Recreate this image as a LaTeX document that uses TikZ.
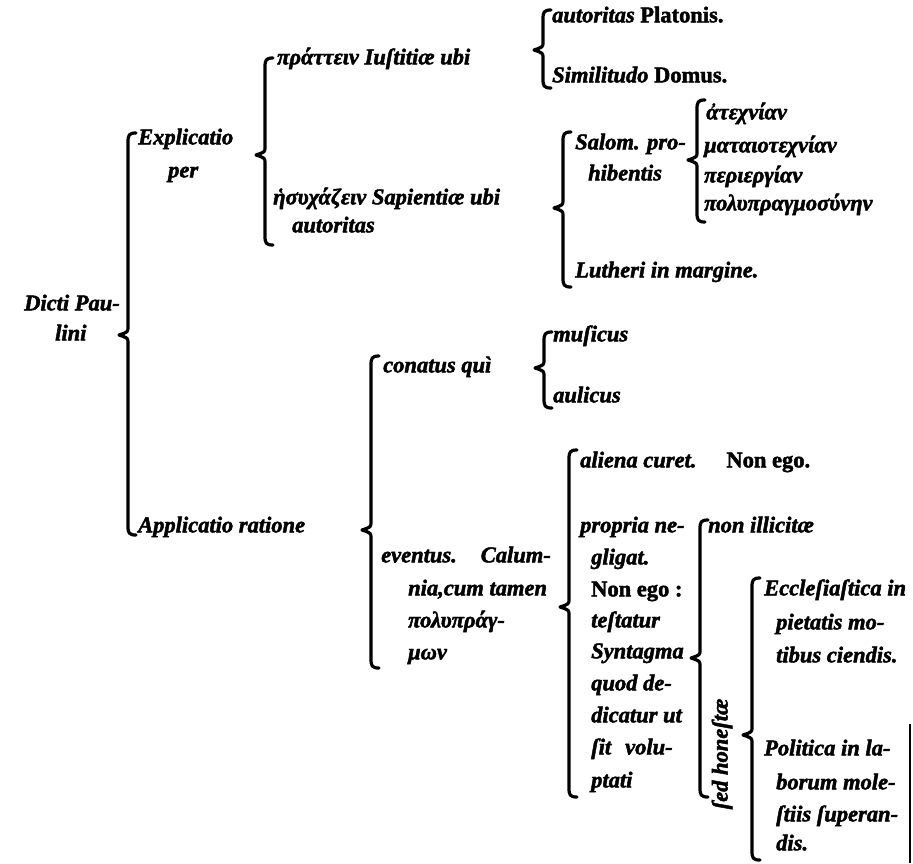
\documentclass[tikz,border=0pt]{standalone}
\usepackage{fontspec}
\setmainfont{Liberation Serif}[BoldItalicFeatures={FakeBold=2}, BoldFeatures={FakeBold=2}]
\tikzset{
  txt/.style={anchor=mid west, inner sep=0pt, font=\fontsize{22.5}{27}\selectfont\bfseries\itshape},
  brkline/.style={line width=3.2pt, line cap=round, line join=round},
}
\newcommand{\mybrace}[4]{%
  \draw[brkline] ({#1+8},{#2}) .. controls ({#1+1},{#2}) and ({#1},{#2+2}) .. ({#1},{#2+9})
    -- ({#1},{#3-8}) .. controls ({#1},{#3-3}) .. ({#1-9},{#3})
    .. controls ({#1},{#3+3}) .. ({#1},{#3+8})
    -- ({#1},{#4-9}) .. controls ({#1},{#4-2}) and ({#1+1},{#4}) .. ({#1+8},{#4});}
\begin{document}
\begin{tikzpicture}[x=1pt,y=-1pt]
\fill[white] (0,0) rectangle (913,863);
\useasboundingbox (0,0) rectangle (913,863);

% level 0
\node[txt] (d1) at (24,308) {Dicti Pau-};
\node[txt] (d2) at (55,338) {lini};
\mybrace{128}{133}{335}{535}

% level 1
\node[txt] (ex1) at (138,142) {Explicatio};
\node[txt] (ex2) at (168,175) {per};
\node[txt] (ap) at (138,530) {Applicatio ratione};

% Explicatio branch
\mybrace{265}{58}{155}{245}
\node[txt] (pr) at (277,62) {πράττειν Iuſtitiæ ubi};
\node[txt] (hs1) at (273,202) {ἡσυχάζειν Sapientiæ ubi};
\node[txt] (hs2) at (292,230) {autoritas};

\mybrace{543}{10}{50}{88}
\node[txt] (pl) at (552,20) {autoritas \upshape Platonis.};
\node[txt] (sd) at (552,80) {Similitudo \upshape Domus.};

\mybrace{563}{132}{208}{287}
\node[txt] (sa1) at (575,147) {Salom. pro-};
\node[txt] (sa2) at (588,178) {hibentis};
\node[txt] (lu) at (575,275) {Lutheri in margine.};

\mybrace{697}{100}{160}{222}
\node[txt] (g1) at (706,117) {ἀτεχνίαν};
\node[txt] (g2) at (704,150) {ματαιοτεχνίαν};
\node[txt] (g3) at (704,180) {περιεργίαν};
\node[txt] (g4) at (704,208) {πολυπραγμοσύνην};

% Applicatio branch
\mybrace{371}{356}{530}{668}
\node[txt] (co) at (383,370) {conatus quì};
\mybrace{544}{332}{368}{408}
\node[txt] (mu) at (553,339) {muſicus};
\node[txt] (au) at (553,400) {aulicus};

\node[txt] (ev1) at (381,560) {eventus.\hspace{24pt}Calum-};
\node[txt] (ev2) at (408,593) {nia,cum tamen};
\node[txt] (ev3) at (408,625) {πολυπράγ-};
\node[txt] (ev4) at (408,657) {μων};

\mybrace{569}{450}{607}{797}
\node[txt] (al) at (580,465) {aliena curet.\hspace{30pt}\upshape Non ego.};
\node[txt] (p1) at (580,530) {propria ne-};
\node[txt] (p2) at (591,562) {gligat.};
\node[txt] (p3) at (591,594) {\upshape Non ego :};
\node[txt] (p4) at (591,625) {teſtatur};
\node[txt] (p5) at (591,656) {Syntagma};
\node[txt] (p6) at (591,688) {quod de-};
\node[txt] (p7) at (591,720) {dicatur ut};
\node[txt] (p8) at (591,752) {ſit\hspace{14pt}volu-};
\node[txt] (p9) at (591,785) {ptati};

\mybrace{700}{520}{658}{797}
\node[txt] (ni) at (708,530) {non illicitæ};
\node[txt, anchor=center, rotate=90] (sh) at (722,754) {ſed honeſtæ};

\mybrace{752}{578}{735}{860}
\node[txt] (e1) at (764,593) {Eccleſiaſtica in};
\node[txt] (e2) at (776,627) {pietatis mo-};
\node[txt] (e3) at (776,660) {tibus ciendis.};
\node[txt] (q1) at (764,753) {Politica in la-};
\node[txt] (q2) at (776,787) {borum mole-};
\node[txt] (q3) at (776,819) {ſtiis ſuperan-};
\node[txt] (q4) at (776,848) {dis.};

\draw[line width=1.3pt] (910,724) -- (910,863);
\end{tikzpicture}
\end{document}
